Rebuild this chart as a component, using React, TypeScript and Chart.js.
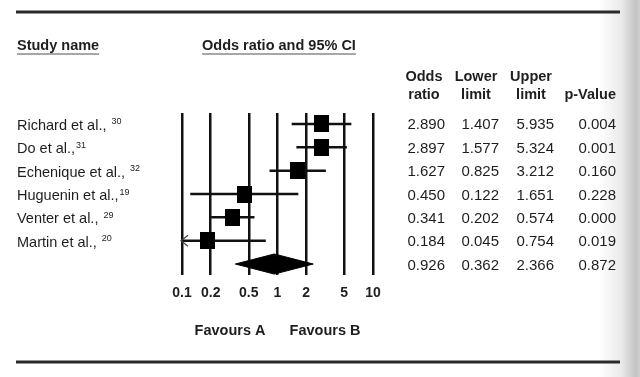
import { useEffect, useRef } from "react";
import { Chart, registerables } from "chart.js";

Chart.register(...registerables);

// ---------- data ----------
const studyNames = [
  "Richard et al., ",
  "Do et al.,",
  "Echenique et al., ",
  "Huguenin et al.,",
  "Venter et al., ",
  "Martin et al., ",
];
const studyRefs = ["30", "31", "32", "19", "29", "20"];
const oddsRatio = [2.89, 2.897, 1.627, 0.45, 0.341, 0.184];
const lowerLimit = [1.407, 1.577, 0.825, 0.122, 0.202, 0.045];
const upperLimit = [5.935, 5.324, 3.212, 1.651, 0.574, 0.754];
const pValue = [0.004, 0.001, 0.16, 0.228, 0.0, 0.019];
const pooledOR = 0.926;
const pooledLower = 0.362;
const pooledUpper = 2.366;
const pooledP = 0.872;
const xTicks = [0.1, 0.2, 0.5, 1, 2, 5, 10];
const columnHeaders = [
  ["Odds", "ratio"],
  ["Lower", "limit"],
  ["Upper", "limit"],
  ["", "p-Value"],
];
const favourLabels = ["Favours A", "Favours B"];

const FONT = '"Liberation Sans", Arial, sans-serif';
const TEXT = "#1e1e1e";

const overlayPlugin = {
  id: "overlay",
  beforeDraw(chart: any) {
    const ctx = chart.ctx as CanvasRenderingContext2D;
    ctx.save();
    ctx.fillStyle = "#ffffff";
    ctx.fillRect(0, 0, chart.width, chart.height);
    const g = ctx.createLinearGradient(598, 0, 640, 0);
    g.addColorStop(0, "rgba(255,255,255,1)");
    g.addColorStop(0.55, "#ebebeb");
    g.addColorStop(0.9, "#c4c4c4");
    g.addColorStop(1, "#cfcfcf");
    ctx.fillStyle = g;
    ctx.fillRect(598, 0, 42, chart.height);
    ctx.restore();
  },
  afterDraw(chart: any) {
    const ctx = chart.ctx as CanvasRenderingContext2D;
    const xs = chart.scales.x;
    const ys = chart.scales.y;
    ctx.save();

    // rules
    ctx.strokeStyle = "#2a2a2a";
    ctx.lineWidth = 3;
    ctx.beginPath();
    ctx.moveTo(16, 12);
    ctx.lineTo(620, 12);
    ctx.moveTo(16, 362);
    ctx.lineTo(620, 362);
    ctx.stroke();

    // titles with underline
    ctx.fillStyle = TEXT;
    ctx.textBaseline = "alphabetic";
    ctx.font = `bold 14.5px ${FONT}`;
    const titles: [string, number][] = [
      ["Study name", 17],
      ["Odds ratio and 95% CI", 202],
    ];
    for (const [t, x] of titles) {
      ctx.textAlign = "left";
      ctx.fillText(t, x, 50);
      const w = ctx.measureText(t).width;
      ctx.strokeStyle = "#8a8a8a";
      ctx.lineWidth = 1.5;
      ctx.beginPath();
      ctx.moveTo(x, 54);
      ctx.lineTo(x + w, 54);
      ctx.stroke();
    }

    // column headers
    const colCenters = [424, 476, 531];
    ctx.font = `bold 14.5px ${FONT}`;
    ctx.textAlign = "center";
    for (let c = 0; c < 3; c++) {
      ctx.fillText(columnHeaders[c][0], colCenters[c], 81);
      ctx.fillText(columnHeaders[c][1], colCenters[c], 99);
    }
    ctx.textAlign = "right";
    ctx.fillText(columnHeaders[3][1], 616, 99);

    // study names + superscripts
    for (let i = 0; i < studyNames.length; i++) {
      const y = ys.getPixelForValue(i);
      ctx.font = `14.5px ${FONT}`;
      ctx.textAlign = "left";
      ctx.fillText(studyNames[i], 17, y + 6);
      const w = ctx.measureText(studyNames[i]).width;
      ctx.font = `9px ${FONT}`;
      ctx.fillText(studyRefs[i], 17 + w + 1, y + 0.5);
    }

    // table values
    const colRights = [445, 499, 554, 616];
    ctx.font = `15px ${FONT}`;
    ctx.textAlign = "right";
    const rows: number[][] = oddsRatio.map((v, i) => [v, lowerLimit[i], upperLimit[i], pValue[i]]);
    rows.push([pooledOR, pooledLower, pooledUpper, pooledP]);
    rows.forEach((r, i) => {
      const y = ys.getPixelForValue(i);
      r.forEach((v, c) => ctx.fillText(v.toFixed(3), colRights[c], y + 5.5));
    });

    // arrows for CIs beyond the axis minimum
    const xMinPx = xs.getPixelForValue(xs.min);
    ctx.strokeStyle = "#444";
    ctx.lineWidth = 1.2;
    lowerLimit.forEach((lo, i) => {
      if (lo < xs.min) {
        const y = ys.getPixelForValue(i);
        ctx.beginPath();
        ctx.moveTo(xMinPx + 6, y - 5.5);
        ctx.lineTo(xMinPx - 1, y);
        ctx.lineTo(xMinPx + 6, y + 5.5);
        ctx.stroke();
      }
    });

    // favours labels
    ctx.font = `bold 14.5px ${FONT}`;
    ctx.textAlign = "center";
    ctx.fillStyle = TEXT;
    ctx.fillText(favourLabels[0], 230, 335);
    ctx.fillText(favourLabels[1], 325, 335);

    ctx.restore();
  },
};

export default function App() {
  const ref = useRef<HTMLCanvasElement>(null);
  useEffect(() => {
    const canvas = ref.current!;
    const sq = document.createElement("canvas");
    sq.width = 15;
    sq.height = 17;
    const sc = sq.getContext("2d")!;
    sc.fillStyle = "#000";
    sc.fillRect(0, 0, 15, 17);

    const dh = 0.43;
    const chart = new Chart(canvas, {
      type: "scatter",
      data: {
        datasets: [
          {
            type: "scatter",
            label: "Odds ratio",
            data: oddsRatio.map((v, i) => ({ x: v, y: i })),
            pointStyle: sq as any,
            pointRadius: 8,
            order: 0,
          } as any,
          ...studyNames.map(
            (s, i) =>
              ({
                type: "line",
                label: s,
                data: [
                  { x: lowerLimit[i], y: i },
                  { x: upperLimit[i], y: i },
                ],
                borderColor: "#111",
                borderWidth: 2.5,
                pointRadius: 0,
                fill: false,
                order: 1,
                clip: 0,
              }) as any
          ),
          {
            type: "line",
            label: "Pooled",
            data: [
              { x: pooledLower, y: 6 },
              { x: pooledOR, y: 6 - dh },
              { x: pooledUpper, y: 6 },
              { x: pooledOR, y: 6 + dh },
              { x: pooledLower, y: 6 },
            ],
            borderColor: "#000",
            borderWidth: 1,
            backgroundColor: "#000",
            fill: "shape",
            pointRadius: 0,
            tension: 0,
            order: 1,
          } as any,
        ],
      },
      options: {
        responsive: false,
        animation: false,
        layout: { padding: { left: 182, right: 267, top: 113, bottom: 0 } },
        plugins: { legend: { display: false }, tooltip: { enabled: false } },
        scales: {
          x: {
            type: "logarithmic",
            min: 0.1,
            max: 10,
            position: "bottom",
            afterBuildTicks: (s: any) => {
              s.ticks = xTicks.map((v) => ({ value: v }));
            },
            afterFit: (s: any) => {
              s.height = 102;
            },
            grid: { color: "#111", lineWidth: 2.5, drawTicks: false },
            border: { display: false },
            ticks: {
              padding: 10,
              color: TEXT,
              autoSkip: false,
              maxRotation: 0,
              font: { family: FONT, size: 14, weight: "bold" },
              callback: (v: any) => String(v),
            },
          } as any,
          y: {
            type: "linear",
            display: false,
            reverse: true,
            min: -0.47,
            max: 6.47,
          },
        },
      },
      plugins: [overlayPlugin],
    });
    return () => chart.destroy();
  }, []);
  return (
    <div style={{ position: "absolute", left: 0, top: 0, width: 640, height: 377 }}>
      <canvas ref={ref} width={640} height={377} style={{ display: "block", width: 640, height: 377 }} />
    </div>
  );
}
